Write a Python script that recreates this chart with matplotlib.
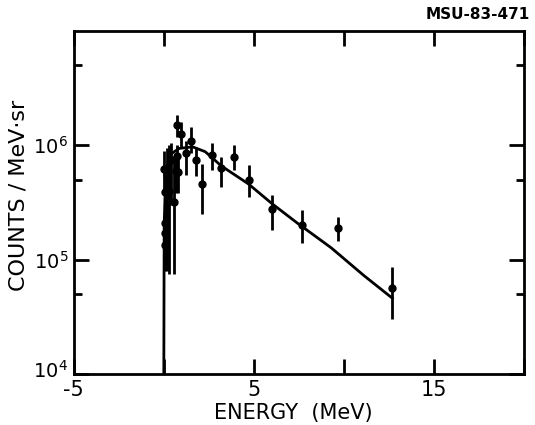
import numpy as np
import matplotlib
matplotlib.use("Agg")
import matplotlib.pyplot as plt
import matplotlib.transforms as mtransforms
from matplotlib.ticker import FixedLocator, NullFormatter

# measured spectrum: energy (MeV), counts/MeV.sr, error bar low/high ends
energy = [0.03, 0.05, 0.05, 0.08, 0.08, 0.20, 0.30, 0.40, 0.55, 0.65, 0.72,
          0.76, 0.81, 0.95, 1.22, 1.51, 1.80, 2.13, 2.68, 3.18, 3.91,
          4.75, 6.02, 7.66, 9.70, 12.66]
counts = [6.2e5, 3.9e5, 2.1e5, 1.7e5, 1.35e5, 5.5e5, 4.0e5, 7.5e5, 3.2e5, 6.0e5, 8.0e5,
          1.5e6, 5.9e5, 1.25e6, 8.5e5, 1.1e6, 7.4e5, 4.6e5, 8.2e5, 6.3e5, 7.9e5,
          5.0e5, 2.8e5, 2.0e5, 1.9e5, 5.7e4]
err_lo = [4.0e5, 2.3e5, 1.2e5, 9.0e4, 8.0e4, 8.0e4, 7.5e4, 3.0e5, 7.5e4, 3.8e5, 5.5e5,
          1.18e6, 3.8e5, 9.5e5, 5.5e5, 8.5e5, 5.4e5, 2.5e5, 6.1e5, 4.3e5, 6.1e5,
          3.5e5, 1.8e5, 1.4e5, 1.46e5, 3.0e4]
err_hi = [9.0e5, 6.5e5, 3.5e5, 3.0e5, 2.2e5, 9.5e5, 1.0e6, 1.05e6, 8.0e5, 8.0e5, 1.0e6,
          1.83e6, 7.9e5, 1.6e6, 1.1e6, 1.45e6, 9.7e5, 6.9e5, 1.05e6, 7.9e5, 1.0e6,
          6.7e5, 3.7e5, 2.7e5, 2.37e5, 8.7e4]

# fitted curve
fit_e = [0.0, 0.02, 0.1, 0.3, 0.85, 1.6, 2.3, 3.2, 4.7, 6.0, 7.4, 9.3, 11.1, 12.7]
fit_c = [1.0e4, 2.0e5, 5.5e5, 8.2e5, 9.4e5, 9.7e5, 8.8e5, 6.6e5, 4.6e5, 3.1e5,
         2.1e5, 1.27e5, 7.3e4, 4.6e4]

x_ticks = [-5, 0, 5, 10, 15, 20]
x_ticklabels = ['-5', '', '5', '', '15', '']
y_ticks = [1e4, 1e5, 1e6]
y_ticklabels = ['$10^{4}$', '$10^{5}$', '$10^{6}$']
y_minor = [5e4, 5e5, 5e6]

plt.rcParams['mathtext.default'] = 'regular'
plt.rcParams['font.family'] = 'DejaVu Sans'

fig = plt.figure(figsize=(5.35, 4.25), dpi=100)
ax = fig.add_axes([0.138, 0.12, 0.841, 0.807])

ax.plot(fit_e, fit_c, color='black', lw=2.0, solid_joinstyle='round')
c = np.array(counts)
yerr = [c - np.array(err_lo), np.array(err_hi) - c]
ax.errorbar(energy, counts, yerr=yerr, fmt='o', color='black', ms=5,
            elinewidth=2.0, capsize=0)

ax.set_yscale('log')
ax.set_xlim(-5, 20)
ax.set_ylim(1e4, 1e7)

ax.set_xticks(x_ticks)
ax.set_xticklabels(x_ticklabels, fontsize=15)
ax.set_yticks(y_ticks)
ax.set_yticklabels(y_ticklabels, fontsize=14)
ax.yaxis.set_minor_locator(FixedLocator(y_minor))
ax.yaxis.set_minor_formatter(NullFormatter())

ax.tick_params(which='major', direction='in', length=11, width=2.0,
               top=True, right=True, pad=4)
ax.tick_params(which='minor', direction='in', length=6, width=2.0,
               top=True, right=True)
ax.tick_params(axis='y', which='major', pad=4)
for s in ax.spines.values():
    s.set_linewidth(2.0)

# lift the bottom y label a little so it clears the corner x label
lab = ax.get_yticklabels()[0]
lab.set_transform(lab.get_transform() +
                  mtransforms.ScaledTranslation(0, 4 / 72, fig.dpi_scale_trans))

ax.set_xlabel('ENERGY  (MeV)', fontsize=15)
ax.xaxis.set_label_coords(0.487, -0.085)
ax.set_ylabel('COUNTS / MeV·sr', fontsize=16)
ax.yaxis.set_label_coords(-0.1, 0.52)

fig.text(0.99, 0.965, 'MSU-83-471', ha='right', va='center',
         fontsize=11, fontweight='bold')

fig.savefig('out.png', dpi=100)
